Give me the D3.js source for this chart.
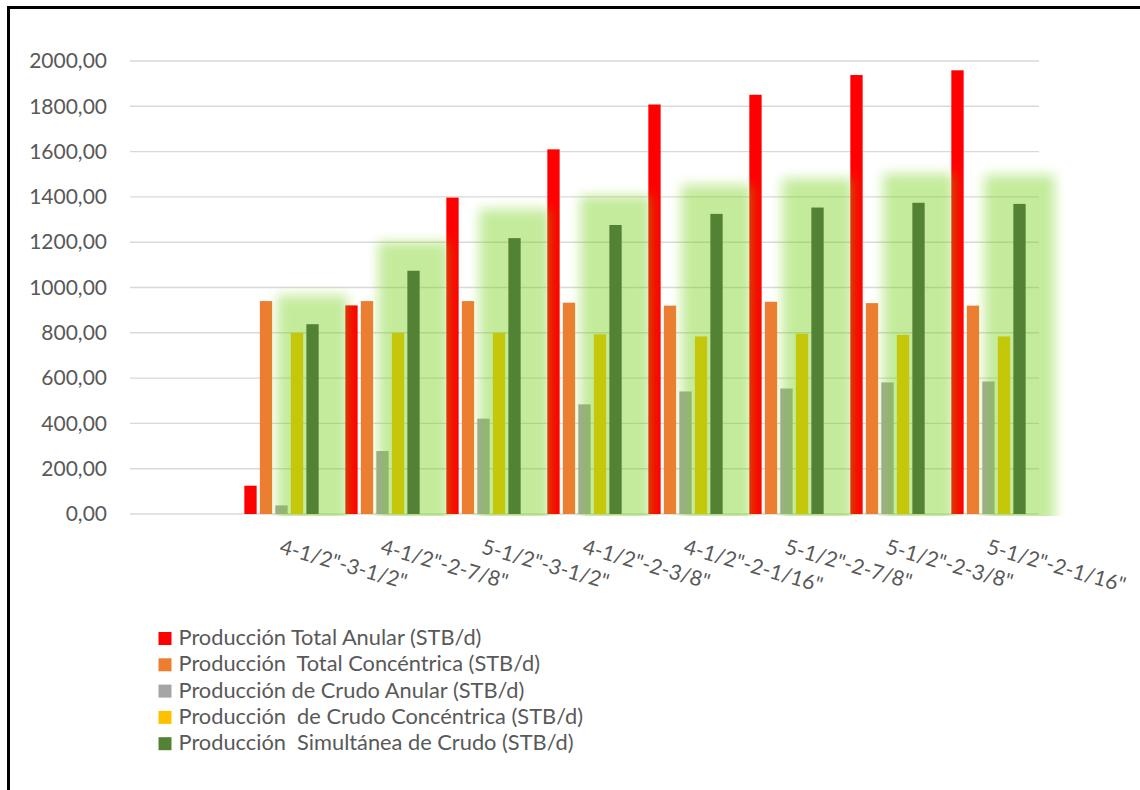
<!DOCTYPE html>
<html>
<head>
<meta charset="utf-8">
<script src="https://cdn.jsdelivr.net/npm/d3@7"></script>
<style>
  html, body { margin: 0; padding: 0; background: #ffffff; }
  svg { display: block; }
  text { font-family: Lato, "Open Sans", sans-serif; fill: #595959; }
</style>
</head>
<body>
<svg id="chart" width="1140" height="790"></svg>
<script>
// Tubing combinations (first slot is left blank on the axis)
const categories = ["", "4-1/2\"-3-1/2\"", "4-1/2\"-2-7/8\"", "5-1/2\"-3-1/2\"", "4-1/2\"-2-3/8\"",
  "4-1/2\"-2-1/16\"", "5-1/2\"-2-7/8\"", "5-1/2\"-2-3/8\"", "5-1/2\"-2-1/16\""];

// Production rates, STB/d
const totalAnular       = [null, 125, 921, 1397, 1610, 1808, 1851, 1938, 1959];
const totalConcentrica  = [null, 940, 940, 940, 933, 920, 937, 931, 920];
const crudoAnular       = [null, 38, 278, 421, 484, 541, 554, 581, 585];
const crudoConcentrica  = [null, 800, 800, 800, 793, 784, 796, 791, 784];
const simultaneaCrudo   = [null, 838, 1074, 1218, 1276, 1325, 1353, 1374, 1369];

const seriesNames = [
  "Producción Total Anular (STB/d)",
  "Producción  Total Concéntrica (STB/d)",
  "Producción de Crudo Anular (STB/d)",
  "Producción  de Crudo Concéntrica (STB/d)",
  "Producción  Simultánea de Crudo (STB/d)"
];
const seriesColors = ["#ff0000", "#ed7d31", "#a5a5a5", "#ffc000", "#548235"];
const seriesValues = [totalAnular, totalConcentrica, crudoAnular, crudoConcentrica, simultaneaCrudo];

const yTicks = [0, 200, 400, 600, 800, 1000, 1200, 1400, 1600, 1800, 2000];

const svg = d3.select("#chart");
const plot = { left: 130, right: 1039, top: 61, bottom: 514 };

const y = d3.scaleLinear().domain([0, 2000]).range([plot.bottom, plot.top]);
const x0 = d3.scaleBand().domain(d3.range(categories.length))
  .range([plot.left, plot.right]).paddingInner(0.264).paddingOuter(0.132);
const x1 = d3.scaleBand().domain(d3.range(seriesNames.length))
  .range([0, x0.bandwidth()]).paddingInner(0.206).paddingOuter(0);

// Soft glow used behind the simultaneous-production series
const defs = svg.append("defs");
const glow = defs.append("filter").attr("id", "glow")
  .attr("x", "-100%").attr("y", "-100%").attr("width", "300%").attr("height", "300%");
glow.append("feGaussianBlur").attr("stdDeviation", 6);
defs.append("clipPath").attr("id", "plotClip").append("rect")
  .attr("x", 0).attr("y", 0).attr("width", 1140).attr("height", plot.bottom + 2);

// Horizontal gridlines
svg.append("g").selectAll("line").data(yTicks).join("line")
  .attr("x1", plot.left).attr("x2", plot.right)
  .attr("y1", d => y(d)).attr("y2", d => y(d))
  .attr("stroke", "#d9d9d9").attr("stroke-width", 1.4);

// Y axis labels
const yAxis = d3.axisLeft(y).tickValues(yTicks).tickSize(0).tickPadding(0)
  .tickFormat(d => d3.format(".2f")(d).replace(".", ","));
const yg = svg.append("g").attr("transform", `translate(${plot.left - 23},0)`).call(yAxis);
yg.select(".domain").remove();
yg.selectAll("text").attr("font-size", 21).attr("fill", "#595959")
  .style("font-family", "Lato, 'Open Sans', sans-serif");

const groups = categories.map((c, i) => i).filter(i => totalAnular[i] !== null);

// Bars of the first four series
for (let s = 0; s < 4; s++) {
  svg.append("g").selectAll("rect").data(groups).join("rect")
    .attr("x", i => x0(i) + x1(s))
    .attr("width", x1.bandwidth())
    .attr("y", i => y(seriesValues[s][i]))
    .attr("height", i => y(0) - y(seriesValues[s][i]))
    .attr("fill", seriesColors[s]);
}

// Glow halo around the last series
const pad = 29;
svg.append("g").attr("clip-path", "url(#plotClip)")
  .selectAll("rect").data(groups).join("rect")
  .attr("x", i => x0(i) + x1(4) - pad)
  .attr("width", x1.bandwidth() + 2 * pad)
  .attr("y", i => y(simultaneaCrudo[i]) - pad)
  .attr("height", i => y(0) - y(simultaneaCrudo[i]) + pad + 10)
  .attr("fill", "rgb(118,208,30)")
  .attr("fill-opacity", 0.43)
  .attr("filter", "url(#glow)");

svg.append("g").selectAll("rect").data(groups).join("rect")
  .attr("x", i => x0(i) + x1(4))
  .attr("width", x1.bandwidth())
  .attr("y", i => y(simultaneaCrudo[i]))
  .attr("height", i => y(0) - y(simultaneaCrudo[i]))
  .attr("fill", seriesColors[4]);

// Rotated category labels
svg.append("g").selectAll("text").data(groups).join("text")
  .attr("transform", i => `translate(${x0(i) + x0.bandwidth() / 2 - 3},553) rotate(16)`)
  .attr("text-anchor", "start")
  .attr("font-size", 21)
  .text(i => categories[i]);

// Legend
const legend = svg.append("g").attr("transform", "translate(158.5,632)");
const rows = legend.selectAll("g").data(seriesNames).join("g")
  .attr("transform", (d, i) => `translate(0,${i * 26.3})`);
rows.append("rect").attr("width", 13).attr("height", 13)
  .attr("fill", (d, i) => seriesColors[i]);
rows.append("text").attr("x", 20).attr("y", 13)
  .attr("font-size", 21.8)
  .style("white-space", "pre")
  .attr("xml:space", "preserve")
  .text(d => d);

// Chart frame
svg.append("rect").attr("x", 8.5).attr("y", 7.5).attr("width", 1200).attr("height", 900)
  .attr("fill", "none").attr("stroke", "#000").attr("stroke-width", 3);
</script>
</body>
</html>
